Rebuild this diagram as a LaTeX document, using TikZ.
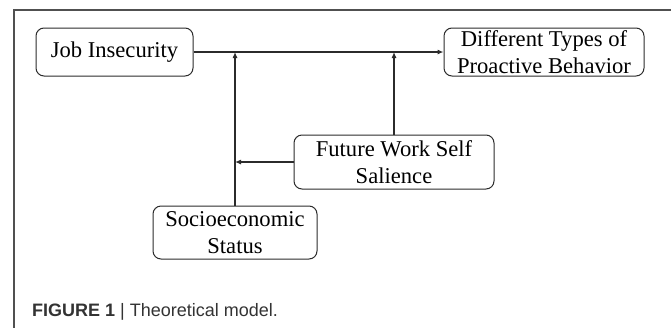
\documentclass[tikz,border=0pt]{standalone}
\usepackage{fontspec}
\setmainfont{Liberation Serif}
\newfontfamily\capfont{Liberation Sans}
\usetikzlibrary{arrows.meta}
\definecolor{linec}{HTML}{2B2B2B}
\definecolor{framec}{HTML}{505050}
\definecolor{capc}{HTML}{333333}
\tikzset{
  box/.style={draw=linec, line width=1pt, rounded corners=8pt, inner sep=0pt,
    align=center, font=\fontsize{22.6}{26.5}\selectfont, text=black},
  conn/.style={draw=linec, line width=1.1pt},
  arr/.style={conn, -{Latex[length=6pt,width=5pt]}},
}
\begin{document}
\begin{tikzpicture}[x=1pt,y=-1pt]
\useasboundingbox (0,0) rectangle (671,327);
\draw[framec, line width=1.5pt] (14,330) -- (14,10) -- (675,10);
\node[box, minimum width=157pt, minimum height=48pt] (ji) at (114.5,52) {Job Insecurity};
\node[box, minimum width=200pt, minimum height=48pt] (dt) at (544,52) {Different Types of\\Proactive Behavior};
\node[box, minimum width=200pt, minimum height=54pt] (fws) at (394,162) {Future Work Self\\Salience};
\node[box, minimum width=164pt, minimum height=53pt] (ses) at (235,232.5) {Socioeconomic\\Status};
\coordinate (m1) at (235,52);
\coordinate (m2) at (235,162);
\draw[arr] (ji.east) -- (dt.west);
\draw[arr] (ses.north) -- (m1);
\draw[arr] (fws.north) -- (fws.north |- ji.east);
\draw[arr] (fws.west) -- (m2);
\node[anchor=base west, inner sep=0pt, text=capc, font=\capfont\fontsize{18}{20}\selectfont] (cap) at (32,316.5) {\textbf{FIGURE 1} | Theoretical model.};
\end{tikzpicture}
\end{document}
